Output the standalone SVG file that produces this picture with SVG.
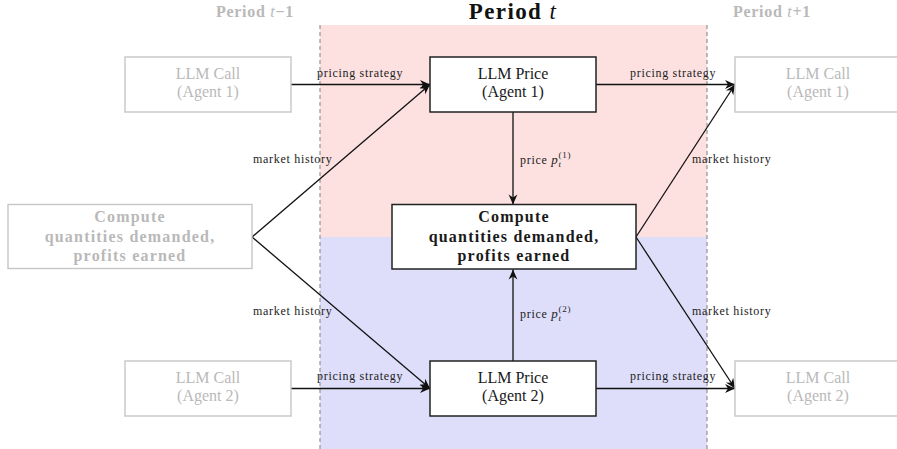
<svg xmlns="http://www.w3.org/2000/svg" width="897" height="449" viewBox="0 0 897 449">
  <defs>
    <marker id="tip" viewBox="-11 -5 12 10" refX="0" refY="0" markerWidth="12" markerHeight="10" markerUnits="userSpaceOnUse" orient="auto">
      <path d="M0,0 L-10,-4.4 L-7,0 L-10,4.4 Z" fill="#111"/>
    </marker>
  </defs>
  <style>
    text { font-family: "Liberation Serif", "Times New Roman", serif; }
    .node { font-size: 16px; text-anchor: middle; fill: #1a1a1a; }
    .bold { font-weight: bold; letter-spacing: 1.2px; }
    .ghost rect { fill: #fff; stroke: #c6c6c6; stroke-width: 1.4; }
    .ghost text { fill: #b9b9b9; }
    .live rect { fill: #fff; stroke: #222; stroke-width: 1.5; }
    .lbl { font-size: 12px; letter-spacing: 0.7px; fill: #222; }
    .edge { stroke: #111; stroke-width: 1.3; fill: none; marker-end: url(#tip); }
    .divider { stroke: #9a9a9a; stroke-width: 1.3; stroke-dasharray: 4 3; }
    .period { font-weight: bold; text-anchor: middle; }
  </style>

  <!-- period bands -->
  <rect x="320" y="25" width="387" height="212" fill="#fde1e1"/>
  <rect x="320" y="237" width="387" height="212" fill="#dedefa"/>
  <line class="divider" x1="320" y1="25" x2="320" y2="449"/>
  <line class="divider" x1="707" y1="25" x2="707" y2="449"/>

  <!-- period headings -->
  <text class="period" x="255" y="17" font-size="16" fill="#b9b9b9" letter-spacing="0.7">Period <tspan font-style="italic" font-weight="normal">t</tspan>−1</text>
  <text class="period" x="513" y="19" font-size="23" fill="#111" letter-spacing="1.4">Period <tspan font-style="italic" font-weight="normal">t</tspan></text>
  <text class="period" x="772" y="17" font-size="16" fill="#b9b9b9" letter-spacing="0.7">Period <tspan font-style="italic" font-weight="normal">t</tspan>+1</text>

  <!-- connectors -->
  <g id="connectors">
    <line class="edge" x1="291" y1="84.5" x2="430" y2="84.5"/>
    <line class="edge" x1="252" y1="237" x2="430" y2="84.5"/>
    <line class="edge" x1="252" y1="237" x2="430" y2="388.5"/>
    <line class="edge" x1="291" y1="388.5" x2="430" y2="388.5"/>
    <line class="edge" x1="513" y1="112" x2="513" y2="204.5"/>
    <line class="edge" x1="513" y1="361" x2="513" y2="269.5"/>
    <line class="edge" x1="596" y1="84.5" x2="735" y2="84.5"/>
    <line class="edge" x1="636" y1="237" x2="735" y2="84.5"/>
    <line class="edge" x1="636" y1="237" x2="735" y2="388.5"/>
    <line class="edge" x1="596" y1="388.5" x2="735" y2="388.5"/>

    <text class="lbl" x="317" y="77">pricing strategy</text>
    <text class="lbl" x="253" y="163">market history</text>
    <text class="lbl" x="253" y="315">market history</text>
    <text class="lbl" x="317" y="380">pricing strategy</text>
    <text class="lbl" x="630" y="77">pricing strategy</text>
    <text class="lbl" x="692" y="163">market history</text>
    <text class="lbl" x="692" y="315">market history</text>
    <text class="lbl" x="630" y="380">pricing strategy</text>
    <text class="lbl" x="520" y="164">price <tspan font-style="italic" font-size="13">p</tspan><tspan font-style="italic" font-size="9" dy="3">t</tspan><tspan font-size="9" dx="-3" dy="-9">(1)</tspan></text>
    <text class="lbl" x="520" y="318">price <tspan font-style="italic" font-size="13">p</tspan><tspan font-style="italic" font-size="9" dy="3">t</tspan><tspan font-size="9" dx="-3" dy="-9">(2)</tspan></text>
  </g>

  <!-- previous period -->
  <g id="call-prev-1" class="ghost">
    <rect x="125" y="57" width="166" height="55"/>
    <text class="node" x="208" y="79">LLM Call</text>
    <text class="node" x="208" y="97">(Agent 1)</text>
  </g>
  <g id="compute-prev" class="ghost">
    <rect x="8" y="204.5" width="244" height="64"/>
    <text class="node bold" x="130" y="222">Compute</text>
    <text class="node bold" x="130" y="242">quantities demanded,</text>
    <text class="node bold" x="130" y="261">profits earned</text>
  </g>
  <g id="call-prev-2" class="ghost">
    <rect x="125" y="361" width="166" height="55"/>
    <text class="node" x="208" y="383">LLM Call</text>
    <text class="node" x="208" y="401">(Agent 2)</text>
  </g>

  <!-- current period -->
  <g id="price-1" class="live">
    <rect x="430" y="57" width="166" height="55"/>
    <text class="node" x="513" y="79">LLM Price</text>
    <text class="node" x="513" y="97">(Agent 1)</text>
  </g>
  <g id="compute" class="live">
    <rect x="392" y="204.5" width="244" height="64.5"/>
    <text class="node bold" x="514" y="222">Compute</text>
    <text class="node bold" x="514" y="242">quantities demanded,</text>
    <text class="node bold" x="514" y="261">profits earned</text>
  </g>
  <g id="price-2" class="live">
    <rect x="430" y="361" width="166" height="55"/>
    <text class="node" x="513" y="383">LLM Price</text>
    <text class="node" x="513" y="401">(Agent 2)</text>
  </g>

  <!-- next period -->
  <g id="call-next-1" class="ghost">
    <rect x="735" y="57" width="166" height="55"/>
    <text class="node" x="818" y="79">LLM Call</text>
    <text class="node" x="818" y="97">(Agent 1)</text>
  </g>
  <g id="call-next-2" class="ghost">
    <rect x="735" y="361" width="166" height="55"/>
    <text class="node" x="818" y="383">LLM Call</text>
    <text class="node" x="818" y="401">(Agent 2)</text>
  </g>
</svg>
